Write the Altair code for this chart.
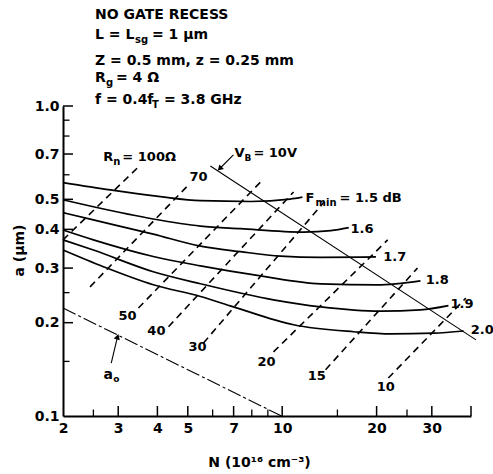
import altair as alt
import pandas as pd

FONT = "DejaVu Sans"

# ---------------- data (N in 1e16 cm^-3, a in um) ----------------
FMIN = ["1.5", "1.6", "1.7", "1.8", "1.9", "2.0"]
F15_N = [2.0, 2.83, 4.09, 5.49, 7.93, 10.6, 11.6]
F15_A = [0.566, 0.536, 0.510, 0.495, 0.492, 0.501, 0.508]
F16_N = [2.0, 2.5, 3.88, 5.49, 7.36, 11.7, 14.3, 16.3]
F16_A = [0.498, 0.473, 0.432, 0.410, 0.402, 0.392, 0.396, 0.405]
F17_N = [2.0, 2.5, 3.88, 5.49, 7.36, 9.88, 13.25, 19.9]
F17_A = [0.453, 0.429, 0.386, 0.353, 0.339, 0.328, 0.325, 0.326]
F18_N = [2.0, 2.5, 3.88, 5.49, 8.53, 13.25, 20.1, 27.6]
F18_A = [0.398, 0.370, 0.327, 0.305, 0.283, 0.267, 0.265, 0.273]
F19_N = [2.0, 2.5, 3.88, 5.49, 9.38, 13.25, 20.6, 27.6, 33.9]
F19_A = [0.370, 0.343, 0.292, 0.267, 0.237, 0.225, 0.218, 0.220, 0.227]
F20_N = [2.0, 2.69, 3.88, 5.49, 6.99, 10.87, 16.9, 22.2, 30.4, 37.9]
F20_A = [0.343, 0.303, 0.265, 0.243, 0.225, 0.197, 0.187, 0.184, 0.185, 0.188]
F_N = [F15_N, F16_N, F17_N, F18_N, F19_N, F20_N]
F_A = [F15_A, F16_A, F17_A, F18_A, F19_A, F20_A]

# F_min value labels (start of text)
FLAB_N = [16.5, 21.0, 28.7, 34.4, 39.9]
FLAB_A = [0.401, 0.326, 0.275, 0.230, 0.189]

# R_n constant lines (start / end)
RN = ["100", "70", "50", "40", "30", "20", "15", "10"]
RN_N0 = [2.0, 2.44, 3.48, 4.34, 5.61, 9.38, 13.75, 21.8]
RN_A0 = [0.370, 0.261, 0.223, 0.194, 0.172, 0.161, 0.141, 0.1326]
RN_N1 = [3.53, 5.02, 8.65, 10.87, 13.6, 21.7, 27.0, 38.5]
RN_A1 = [0.645, 0.556, 0.577, 0.528, 0.490, 0.370, 0.300, 0.240]
# R_n labels (centre)
RNLAB = ["70", "50", "40", "30", "20", "15", "10"]
RNLAB_N = [5.41, 3.21, 3.97, 5.37, 8.91, 12.9, 21.4]
RNLAB_A = [0.590, 0.210, 0.188, 0.167, 0.149, 0.1346, 0.124]

# V_B = 10 V line
VB_N = [5.90, 41.5]
VB_A = [0.640, 0.176]
VB_ARROW_N = [6.99, 6.35]
VB_ARROW_A = [0.695, 0.631]

# a0 line
A0_N = [2.0, 9.95]
A0_A = [0.223, 0.100]
A0_ARROW_N = [2.85, 2.98]
A0_ARROW_A = [0.148, 0.179]

# axis ticks
X_MAJOR = [3, 4, 5, 7, 10, 20, 30, 40]
X_MINOR = [2.5, 6, 8, 9, 15, 25]
X_LABELS = [2, 3, 4, 5, 7, 10, 20, 30]
Y_MAJOR = [0.2, 0.3, 0.4, 0.5, 0.7, 1.0]
Y_MINOR = [0.15, 0.25, 0.6, 0.8, 0.9]
Y_LABELS = [0.1, 0.2, 0.3, 0.4, 0.5, 0.7, 1.0]

# ---------------- chart ----------------
W, H = 408, 310
PL, PT = 63, 106
xs = alt.Scale(type="log", domain=[2, 40], nice=False)
ys = alt.Scale(type="log", domain=[0.1, 1.0], nice=False)

xaxis = alt.Axis(values=X_LABELS, format="d", ticks=False, grid=False,
                 domainWidth=2, domainColor="black", labelFont=FONT,
                 labelFontSize=14, labelFontWeight="bold", labelColor="black",
                 labelPadding=5, labelFlush=False, labelOverlap=False,
                 title="N (10¹⁶ cm⁻³)", titleFont=FONT, titleFontSize=14,
                 titleFontWeight="bold", titleColor="black",
                 titleX=196, titleY=46, titleAlign="center",
                 titleBaseline="middle")
yaxis = alt.Axis(values=Y_LABELS, format=".1f", ticks=False, grid=False,
                 domainWidth=2, domainColor="black", labelFont=FONT,
                 labelFontSize=14, labelFontWeight="bold", labelColor="black",
                 labelPadding=4, labelFlush=False, labelOverlap=False,
                 title="a (μm)", titleFont=FONT, titleFontSize=14,
                 titleFontWeight="bold", titleColor="black",
                 titleX=-44, titleY=144, titleAlign="center",
                 titleBaseline="middle", titleAngle=270)


def X():
    return alt.X("N:Q", scale=xs, axis=xaxis)


def Y():
    return alt.Y("a:Q", scale=ys, axis=yaxis)


rows = []
for lab, ns, avals in zip(FMIN, F_N, F_A):
    for i, (n, a) in enumerate(zip(ns, avals)):
        rows.append({"F": lab, "N": n, "a": a, "o": i})
fdf = pd.DataFrame(rows)

rrows = []
for lab, n0, a0, n1, a1 in zip(RN, RN_N0, RN_A0, RN_N1, RN_A1):
    rrows.append({"R": lab, "N": n0, "a": a0, "o": 0})
    rrows.append({"R": lab, "N": n1, "a": a1, "o": 1})
rdf = pd.DataFrame(rrows)

layers = []

# inward ticks
layers.append(alt.Chart(pd.DataFrame({"N": X_MAJOR})).mark_rule(color="black", strokeWidth=1.5).encode(
    x=X(), y=alt.value(H), y2=alt.value(H - 10)))
layers.append(alt.Chart(pd.DataFrame({"a": Y_MAJOR})).mark_rule(color="black", strokeWidth=1.5).encode(
    y=Y(), x=alt.value(0), x2=alt.value(10)))
layers.append(alt.Chart(pd.DataFrame({"N": X_MINOR})).mark_rule(color="black", strokeWidth=1.3).encode(
    x=X(), y=alt.value(H), y2=alt.value(H - 6.5)))
layers.append(alt.Chart(pd.DataFrame({"a": Y_MINOR})).mark_rule(color="black", strokeWidth=1.3).encode(
    y=Y(), x=alt.value(0), x2=alt.value(6.5)))

# F_min curves
layers.append(alt.Chart(fdf).mark_line(color="black", strokeWidth=1.7, interpolate="monotone").encode(
    x=X(), y=Y(), detail="F:N", order="o:Q"))

# R_n dashed lines
layers.append(alt.Chart(rdf).mark_line(color="black", strokeWidth=1.6, strokeDash=[7, 5]).encode(
    x=X(), y=Y(), detail="R:N", order="o:Q"))

# V_B line and arrow
layers.append(alt.Chart(pd.DataFrame({"N": VB_N, "a": VB_A})).mark_line(color="black", strokeWidth=1.1).encode(
    x=X(), y=Y()))
layers.append(alt.Chart(pd.DataFrame({"N": VB_ARROW_N, "a": VB_ARROW_A})).mark_line(color="black", strokeWidth=1.1).encode(
    x=X(), y=Y()))
layers.append(alt.Chart(pd.DataFrame({"N": VB_ARROW_N[1:], "a": VB_ARROW_A[1:]})).mark_point(
    shape="triangle", filled=True, size=40, angle=225, color="black", opacity=1).encode(x=X(), y=Y()))

# a0 line and arrow
layers.append(alt.Chart(pd.DataFrame({"N": A0_N, "a": A0_A})).mark_line(
    color="black", strokeWidth=1.1, strokeDash=[14, 3, 3, 3]).encode(x=X(), y=Y()))
layers.append(alt.Chart(pd.DataFrame({"N": A0_ARROW_N, "a": A0_ARROW_A})).mark_line(color="black", strokeWidth=1.1).encode(
    x=X(), y=Y()))
layers.append(alt.Chart(pd.DataFrame({"N": A0_ARROW_N[1:], "a": A0_ARROW_A[1:]})).mark_point(
    shape="triangle", filled=True, size=40, angle=17, color="black", opacity=1).encode(x=X(), y=Y()))


def txt(n, a, text, size=13, dx=0, dy=0, align="left", weight="bold"):
    return alt.Chart(pd.DataFrame({"N": [n], "a": [a], "t": [text]})).mark_text(
        align=align, baseline="middle", dx=dx, dy=dy, fontSize=size, font=FONT,
        fontWeight=weight, color="black").encode(x=X(), y=Y(), text="t:N")


def htxt(px, py, text, size=14):
    return alt.Chart(pd.DataFrame({"t": [text]})).mark_text(
        align="left", baseline="middle", fontSize=size, font=FONT, fontWeight="bold",
        color="black").encode(x=alt.value(px - PL), y=alt.value(py - PT), text="t:N")


# in-plot labels
for lab, n, a in zip(FMIN[1:], FLAB_N, FLAB_A):
    layers.append(txt(n, a, lab))
for lab, n, a in zip(RNLAB, RNLAB_N, RNLAB_A):
    layers.append(txt(n, a, lab, align="center"))
layers += [
    txt(11.87, 0.505, "F"), txt(11.87, 0.505, "min", size=10, dx=10, dy=5),
    txt(11.87, 0.505, "= 1.5 dB", dx=34),
    txt(2.69, 0.685, "R"), txt(2.69, 0.685, "n", size=10, dx=10, dy=5),
    txt(2.69, 0.685, "= 100Ω", dx=19),
    txt(7.04, 0.705, "V"), txt(7.04, 0.705, "B", size=9, dx=10, dy=5),
    txt(7.04, 0.705, "= 10V", dx=19),
    txt(2.79, 0.1356, "a", size=14, align="center"),
    txt(2.79, 0.1356, "o", size=9, dx=5, dy=4, align="left"),
]

# header text
layers += [
    htxt(95, 15, "NO GATE RECESS"),
    htxt(95, 35, "L = L"), htxt(135, 40, "sg", size=10), htxt(152, 35, "= 1 μm"),
    htxt(95, 61, "Z = 0.5 mm,  z = 0.25 mm"),
    htxt(95, 78, "R"), htxt(106, 83, "g", size=10), htxt(116, 78, "= 4 Ω"),
    htxt(95, 100, "f = 0.4f"), htxt(152, 105, "T", size=10), htxt(164, 100, "= 3.8 GHz"),
]

chart = alt.layer(*layers).properties(
    width=W, height=H,
    padding={"left": PL, "top": PT, "right": 493 - PL - W, "bottom": 474 - PT - H},
    autosize="none",
    background="white",
).configure_view(stroke=None)

chart.save("out.html", embed_options={"renderer": "svg", "actions": False})
